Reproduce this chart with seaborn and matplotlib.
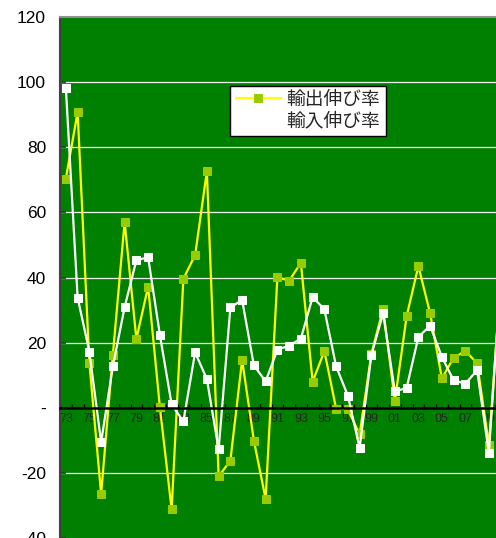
import numpy as np
import pandas as pd
import matplotlib
matplotlib.use('Agg')
import matplotlib.pyplot as plt
import seaborn as sns

# Datos
anios = list(range(1973, 2011))
exportacion = [70.4, 90.8, 13.7, -26.5, 16.3, 57.1, 21.1, 37.2, 0.2, -31.2,
               39.6, 46.9, 72.6, -21.1, -16.2, 14.7, -10.1, -28.0, 40.1, 39.0,
               44.5, 8.0, 17.4, -0.3, -0.5, -8.2, 16.5, 30.4, 2.1, 28.1,
               43.5, 29.0, 9.0, 15.4, 17.4, 13.7, -11.4, 38.0]
importacion = [98.1, 33.8, 17.2, -10.6, 12.7, 30.9, 45.3, 46.2, 22.4, 1.0,
               -4.2, 17.0, 8.8, -12.8, 30.8, 33.1, 13.0, 8.1, 17.8, 19.1,
               21.2, 34.0, 30.2, 12.7, 3.7, -12.3, 16.2, 29.0, 5.0, 6.1,
               21.7, 25.2, 15.6, 8.4, 7.4, 11.5, -13.9, 40.0]
series = ['輸出伸び率', '輸入伸び率']
y_ticks = [-40, -20, 0, 20, 40, 60, 80, 100, 120]
y_labels = ['-40', '-20', '-', '20', '40', '60', '80', '100', '120']

df = pd.DataFrame({'anio': anios, series[0]: exportacion, series[1]: importacion})

sns.set_theme(style='white')
plt.rcParams['font.family'] = ['Liberation Sans', 'Noto Sans CJK JP', 'DejaVu Sans']

fig = plt.figure(figsize=(4.96, 5.38), dpi=100)
ax = fig.add_axes([60 / 496, 0.0, 446.5 / 496, 521 / 538])
ax.set_facecolor('#008000')

sns.lineplot(data=df, x='anio', y=series[0], ax=ax, color='#FFFF00', lw=1.6,
             marker='s', markersize=6.2, markerfacecolor='#99CC00',
             markeredgecolor='#99CC00', label=series[0])
sns.lineplot(data=df, x='anio', y=series[1], ax=ax, color='white', lw=1.6,
             marker='s', markersize=6.2, markerfacecolor='white',
             markeredgecolor='white', label=series[1])

ax.set_xlim(1972.5, 2010.5)
ax.set_ylim(-40, 120)
ax.set_xlabel('')
ax.set_ylabel('')

# Eje Y
ax.set_yticks(y_ticks)
ax.set_yticklabels(y_labels, fontsize=12.5, color='black')
ax.tick_params(axis='y', direction='in', length=4, color='#333333', pad=10, left=True)
for v in y_ticks:
    if v not in (0, -40, 120):
        ax.axhline(v, color='#f0f0f0', lw=0.9, zorder=0.5)

# Eje X en cero
ax.spines['bottom'].set_position(('data', 0))
ax.spines['bottom'].set_color('black')
ax.spines['bottom'].set_linewidth(1.8)
ax.set_xticks(np.arange(1972.5, 2011, 1.0))
ax.set_xticklabels([])
ax.tick_params(axis='x', which='major', direction='in', length=3, width=1,
               color='black', bottom=True)
ax.set_xticks([a for a in anios if a % 2 == 1], minor=True)
ax.set_xticklabels([f'{a % 100:02d}' for a in anios if a % 2 == 1], minor=True)
ax.tick_params(axis='x', which='minor', length=0, pad=4, labelsize=9)

ax.spines['left'].set_color('#404040')
ax.spines['left'].set_linewidth(1.5)
ax.spines['top'].set_color('#909090')
ax.spines['top'].set_linewidth(1.5)
ax.spines['right'].set_visible(False)

leg = ax.legend(loc='upper left', bbox_to_anchor=(0.381, 0.868), borderaxespad=0,
                fontsize=13.5, frameon=True, fancybox=False, framealpha=1,
                handlelength=2.4, handletextpad=0.3, labelspacing=0.2,
                borderpad=0.3)
leg.get_frame().set_edgecolor('black')
leg.get_frame().set_linewidth(1.0)
leg.get_frame().set_facecolor('white')

fig.savefig('out.png', dpi=100)
